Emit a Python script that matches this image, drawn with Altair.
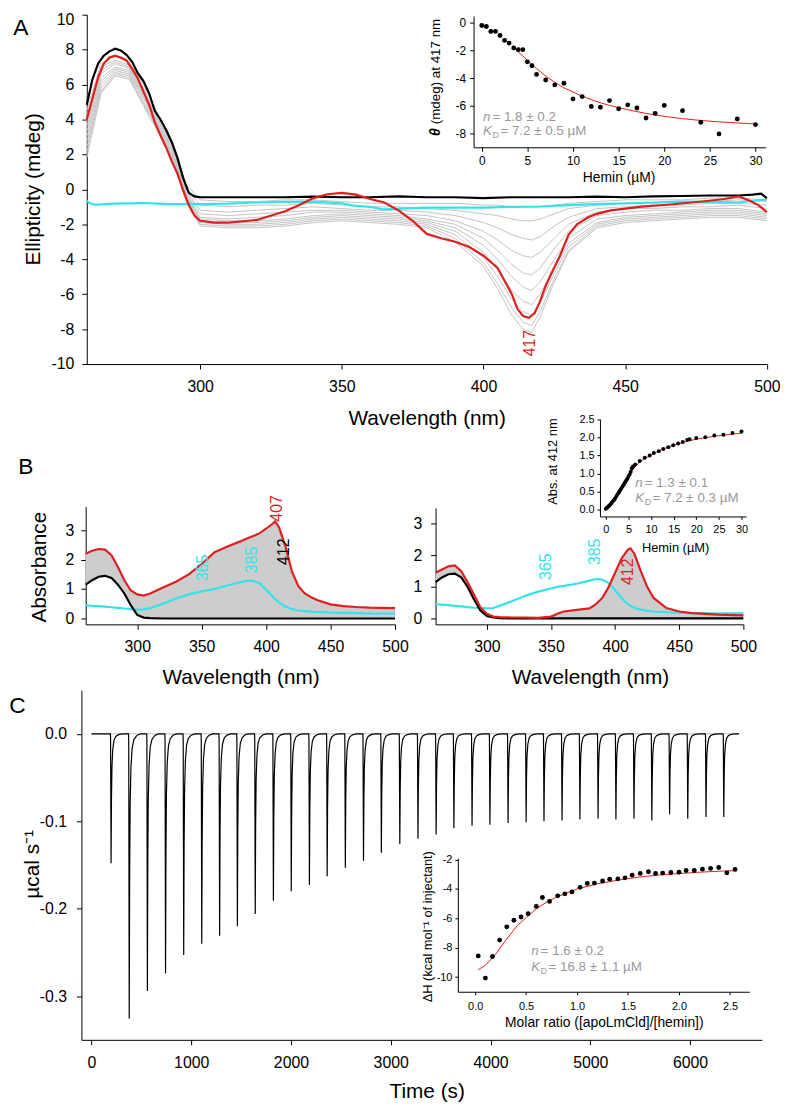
import altair as alt
import pandas as pd

W, H = 780, 1108
FONT = "Liberation Sans"
NARROW = "Liberation Sans Narrow, Liberation Sans"
RED = "#dd1f1f"
CYAN = "#33e3ea"
GRAY = "#c3c3c3"
FILL = "#cdcdcd"
NOTE = "#9a9a9a"

# ---------------- Panel A : CD spectra ----------------
wl_black_A = [260,262,264,266,268,270,272,274,276,278,280,282,284,286,288,290,292,294,296,298,300,
              310,320,330,340,350,360,370,380,390,400,410,420,430,440,450,460,470,480,490,495,498,500]
black_A = [4.85,6.3,7.2,7.65,7.9,8.05,7.95,7.7,7.3,6.65,6.2,5.5,4.5,4.0,3.4,2.7,1.8,0.66,-0.2,-0.4,-0.45,
           -0.45,-0.45,-0.45,-0.42,-0.45,-0.45,-0.4,-0.45,-0.45,-0.5,-0.45,-0.45,-0.45,-0.42,-0.45,-0.4,-0.38,-0.35,-0.35,
           -0.3,-0.25,-0.5]

wl_red_A = [260,262,264,266,268,270,272,274,276,278,280,282,284,286,288,290,292,294,296,298,300,
            305,310,320,330,335,340,345,350,355,360,365,370,375,380,385,390,395,400,405,
            408,410,412,414,416,418,420,422,424,427,430,433,437,440,445,455,467,478,485,490,494,497,500]
red_A = [4.0,5.2,6.4,7.2,7.55,7.65,7.55,7.38,6.9,6.35,5.6,4.85,3.85,3.1,2.4,1.6,0.9,-0.05,-0.9,-1.5,-1.8,
         -1.9,-1.9,-1.75,-1.25,-0.9,-0.5,-0.28,-0.2,-0.3,-0.55,-0.75,-1.2,-1.8,-2.55,-2.8,-3.0,-3.3,-3.8,-4.5,
         -5.4,-6.0,-6.85,-7.25,-7.35,-7.1,-6.4,-5.5,-4.8,-3.8,-2.6,-2.0,-1.6,-1.4,-1.2,-1.0,-0.85,-0.68,-0.55,-0.4,-0.65,-0.9,-1.3]

wl_cyan_A = [260,261,263,266,270,275,280,285,290,295,300,310,320,330,340,350,355,360,365,370,
             380,390,400,410,420,430,440,450,460,470,480,490,495,500]
cyan_A = [-0.65,-0.8,-0.88,-0.85,-0.82,-0.8,-0.78,-0.82,-0.85,-0.85,-0.85,-0.82,-0.75,-0.72,-0.7,-0.8,-0.95,-1.0,-1.15,-1.1,
          -1.05,-1.05,-1.05,-1.0,-0.98,-0.9,-0.85,-0.8,-0.75,-0.7,-0.72,-0.75,-0.65,-0.58]

wl_gray_A = [260,265,270,275,280,285,290,295,300,310,320,330,340,350,360,370,380,390,400,405,410,414,417,420,425,430,440,450,460,470,480,490,500]
gray_A = [
    [4.5,7.2,7.6,7.3,6.0,4.3,2.8,0.3,-0.6,-0.7,-0.7,-0.6,-0.6,-0.7,-0.8,-0.8,-0.8,-0.8,-0.9,-0.9,-1.0,-1.0,-1.0,-1.0,-0.9,-0.8,-0.7,-0.6,-0.6,-0.6,-0.5,-0.5,-0.6],
    [4.2,7.0,7.4,7.1,5.8,4.1,2.6,0.1,-0.9,-1.0,-0.9,-0.9,-0.8,-0.9,-1.0,-1.0,-1.1,-1.2,-1.4,-1.5,-1.7,-1.8,-1.8,-1.7,-1.4,-1.1,-0.9,-0.8,-0.8,-0.7,-0.7,-0.6,-0.7],
    [3.9,6.8,7.3,7.0,5.6,4.0,2.5,0.0,-1.2,-1.3,-1.2,-1.1,-1.0,-1.1,-1.2,-1.2,-1.3,-1.5,-1.9,-2.2,-2.6,-2.8,-2.9,-2.7,-2.1,-1.6,-1.1,-1.0,-0.9,-0.9,-0.8,-0.8,-0.9],
    [3.6,6.6,7.2,6.9,5.5,3.9,2.4,-0.1,-1.4,-1.5,-1.4,-1.3,-1.2,-1.2,-1.3,-1.4,-1.5,-1.8,-2.4,-2.9,-3.5,-3.8,-3.9,-3.6,-2.8,-2.0,-1.3,-1.1,-1.1,-1.0,-1.0,-0.9,-1.1],
    [3.3,6.4,7.0,6.8,5.4,3.8,2.3,-0.2,-1.6,-1.7,-1.6,-1.5,-1.3,-1.3,-1.4,-1.5,-1.7,-2.0,-2.8,-3.5,-4.3,-4.8,-4.9,-4.5,-3.4,-2.4,-1.5,-1.3,-1.2,-1.2,-1.1,-1.1,-1.3],
    [3.0,6.2,6.9,6.7,5.3,3.7,2.2,-0.3,-1.7,-1.8,-1.8,-1.7,-1.5,-1.4,-1.5,-1.6,-1.8,-2.2,-3.2,-4.0,-5.0,-5.6,-5.8,-5.3,-4.0,-2.8,-1.7,-1.5,-1.4,-1.3,-1.2,-1.2,-1.4],
    [2.7,6.0,6.8,6.6,5.2,3.6,2.1,-0.4,-1.8,-1.9,-1.9,-1.8,-1.6,-1.5,-1.6,-1.7,-1.9,-2.4,-3.6,-4.6,-5.8,-6.4,-6.6,-6.0,-4.5,-3.1,-1.9,-1.6,-1.5,-1.4,-1.3,-1.3,-1.5],
    [2.4,5.8,6.7,6.5,5.0,3.5,2.0,-0.5,-1.9,-2.0,-2.0,-1.9,-1.7,-1.6,-1.7,-1.8,-2.0,-2.6,-3.9,-5.0,-6.3,-7.0,-7.2,-6.5,-4.8,-3.3,-2.0,-1.7,-1.6,-1.5,-1.4,-1.4,-1.6],
    [2.1,5.6,6.6,6.4,4.9,3.4,1.9,-0.6,-2.0,-2.1,-2.1,-2.0,-1.8,-1.7,-1.8,-1.9,-2.1,-2.8,-4.2,-5.4,-6.8,-7.6,-7.8,-7.0,-5.1,-3.5,-2.1,-1.8,-1.7,-1.6,-1.5,-1.5,-1.7],
    [1.8,5.5,6.5,6.3,4.8,3.3,1.8,-0.7,-2.1,-2.2,-2.2,-2.1,-1.9,-1.8,-1.9,-2.0,-2.2,-3.0,-4.4,-5.7,-7.2,-8.0,-8.2,-7.3,-5.3,-3.6,-2.2,-1.9,-1.8,-1.7,-1.6,-1.6,-1.8],
]
label_A = {"x": [416.4], "y": [-8.8], "t": ["417"]}

# A inset
hemin_A = [0,0.5,1,1.5,2,2.5,3,3.5,4,4.5,5,5.5,6,7,8,9,10,11,12,13,14,15,16,17,18,19,20,22,24,26,28,30]
theta_A = [-0.19,-0.26,-0.62,-0.62,-0.91,-1.27,-1.46,-1.82,-1.94,-1.94,-2.82,-3.1,-3.73,-4.13,-4.49,-4.37,
           -5.5,-5.33,-6.05,-6.1,-5.62,-6.21,-5.93,-6.16,-6.88,-6.55,-5.97,-6.35,-7.19,-8.03,-6.95,-7.36]
fit_x_A = [3.6,4,5,6,7,8,9,10,11,12,13,14,15,16,18,20,22,24,26,28,30]
fit_y_A = [-1.85,-2.1,-2.7,-3.3,-3.85,-4.3,-4.7,-5.0,-5.3,-5.55,-5.78,-5.97,-6.13,-6.28,-6.55,-6.76,-6.93,-7.06,-7.16,-7.24,-7.31]
note_A = (0.14, -6.78, -7.86, "= 1.8 ± 0.2", "= 7.2 ± 0.5 µM")
ytitle_A = (-5.06, -8.19, "θ", "(mdeg) at 417 nm")

# ---------------- Panel B : absorbance ----------------
wl_BL = [260,265,270,275,280,285,290,295,300,305,310,320,330,340,350,360,370,380,385,390,395,400,405,407,410,415,420,425,430,435,440,450,460,470,480,490,500]
red_BL = [2.2,2.3,2.36,2.34,2.15,1.75,1.3,0.95,0.82,0.78,0.85,1.05,1.25,1.5,1.85,2.25,2.45,2.62,2.72,2.8,2.9,3.05,3.22,3.3,3.1,2.45,1.6,1.1,0.85,0.72,0.62,0.48,0.42,0.39,0.37,0.36,0.35]
black_BL = [1.15,1.3,1.42,1.45,1.38,1.15,0.85,0.45,0.12,0.03,0.01,0,0,0,0,0,0,0,0,0,0,0,0,0,0,0,0,0,0,0,0,0,0,0,0,0,0]
cyan_BL = [0.45,0.43,0.42,0.4,0.38,0.36,0.34,0.32,0.3,0.31,0.35,0.5,0.68,0.82,0.92,1.0,1.12,1.23,1.28,1.28,1.2,0.98,0.75,0.66,0.55,0.4,0.32,0.27,0.25,0.23,0.22,0.2,0.19,0.18,0.17,0.17,0.17]
labels_BL = {"x": [351, 389.4, 413.8, 408.6], "y": [1.72, 1.99, 2.27, 3.74], "t": ["365", "385", "412", "407"], "c": ["cy", "cy", "bk", "rd"]}

wl_BR = [260,265,270,275,280,285,290,295,300,305,310,320,330,340,350,355,360,370,380,385,390,395,400,405,410,412,415,420,425,430,440,450,460,480,500]
red_BR = [1.45,1.55,1.65,1.68,1.5,1.15,0.75,0.35,0.15,0.06,0.04,0.03,0.03,0.02,0.06,0.15,0.22,0.27,0.32,0.45,0.65,1.0,1.45,1.9,2.18,2.22,2.05,1.5,1.0,0.65,0.33,0.22,0.17,0.12,0.1]
black_BR = [1.15,1.3,1.4,1.42,1.3,1.0,0.6,0.25,0.08,0.03,0.01,0,0,0,0,0,0,0,0,0,0,0,0,0,0,0,0,0,0,0,0,0,0,0,0]
cyan_BR = [0.45,0.44,0.42,0.4,0.38,0.36,0.34,0.33,0.32,0.33,0.4,0.55,0.72,0.85,0.95,1.0,1.03,1.1,1.2,1.25,1.23,1.12,0.9,0.65,0.45,0.4,0.33,0.28,0.24,0.22,0.2,0.18,0.17,0.16,0.16]
labels_BR = {"x": [346, 384.6, 410.3], "y": [1.64, 2.11, 1.48], "t": ["365", "385", "412"], "c": ["cy", "cy", "rd"]}

# B inset
hemin_B = [0,0.25,0.5,0.75,1,1.25,1.5,1.75,2,2.25,2.5,2.75,3,3.25,3.5,3.75,4,4.25,4.5,4.75,5,5.25,5.5,5.75,6,
           6.5,7.5,8.6,9.7,10.6,11.7,12.7,13.8,14.9,16,17,18,18.5,20,22,24,26,28,30]
abs_B = [0.03,0.06,0.09,0.12,0.15,0.19,0.23,0.27,0.31,0.36,0.41,0.46,0.51,0.56,0.61,0.66,0.71,0.76,0.81,0.86,0.92,0.98,1.05,1.15,1.2,
         1.25,1.35,1.44,1.5,1.57,1.62,1.68,1.73,1.78,1.83,1.87,1.93,1.95,1.98,2.0,2.05,2.07,2.12,2.16]
fit_x_B = [5,6,7,8,10,12,14,16,18,20,22,24,26,28,30]
fit_y_B = [0.95,1.12,1.26,1.37,1.52,1.64,1.74,1.82,1.89,1.95,1.99,2.03,2.06,2.09,2.11]
note_B = (6.5, 0.745, 0.317, "= 1.3 ± 0.1", "= 7.2 ± 0.3 µM")

# ---------------- Panel C : ITC ----------------
inj_time = [192,374,556,738,920,1101,1280,1458,1637,1819,1998,2180,2358,2540,2722,2901,3086,3268,3450,3628,
            3810,3989,4171,4352,4531,4712,4891,5073,5252,5433,5612,5790,5972,6155,6333]
inj_peak = [-0.148,-0.326,-0.294,-0.274,-0.253,-0.240,-0.231,-0.220,-0.206,-0.191,-0.180,-0.173,-0.163,-0.153,-0.145,
            -0.136,-0.126,-0.120,-0.115,-0.108,-0.105,-0.104,-0.102,-0.101,-0.100,-0.099,-0.098,-0.097,-0.098,-0.097,
            -0.099,-0.092,-0.097,-0.095,-0.095]
peak_shape_dt = [-2, 0, 5, 9, 14, 22, 34, 52, 80, 115]
peak_shape_frac = [0, 0.03, 1.0, 0.5, 0.25, 0.12, 0.05, 0.02, 0.006, 0]
trace_span = [0, 6490]

ratio_C = [0.03,0.10,0.17,0.24,0.31,0.38,0.45,0.52,0.60,0.66,0.73,0.81,0.88,0.95,1.03,1.10,1.17,1.25,1.32,1.40,
           1.47,1.54,1.62,1.70,1.77,1.84,1.92,2.00,2.07,2.15,2.23,2.31,2.39,2.47,2.55]
dH_C = [-8.56,-10.07,-8.6,-7.48,-6.58,-6.13,-5.91,-5.68,-5.19,-4.58,-4.85,-4.47,-4.33,-4.2,-3.89,-3.62,-3.6,-3.46,-3.33,-3.31,
        -3.24,-3.06,-2.94,-2.83,-2.94,-2.92,-2.88,-2.86,-2.74,-2.74,-2.65,-2.6,-2.54,-2.9,-2.67]
fit_x_C = [0.03,0.1,0.2,0.3,0.4,0.5,0.6,0.7,0.8,1.0,1.2,1.4,1.6,1.8,2.0,2.2,2.4,2.55]
fit_y_C = [-9.5,-9.2,-8.45,-7.5,-6.6,-5.95,-5.35,-4.9,-4.55,-4.0,-3.65,-3.4,-3.2,-3.05,-2.95,-2.86,-2.79,-2.75]
note_C = (0.55, -8.22, -9.30, "= 1.6 ± 0.2", "= 16.8 ± 1.1 µM")


# ---------------- helpers ----------------
def fmt(dec):
    f = "'.%df'" % dec if dec else "'d'"
    return "(datum.value < 0 ? '-' : '') + format(abs(datum.value), %s)" % f


def sc(dom, rng):
    return alt.Scale(domain=dom, range=rng, nice=False, zero=False)


def axis(orient, offset, values, title, tx, ty, dec=0, lsize=16, lpad=8, tsize=5,
         title_size=21, lfont=FONT, loff=0):
    return alt.Axis(orient=orient, offset=offset, values=values, title=title,
                    titleX=tx, titleY=ty, titleBaseline="middle", titleAlign="center",
                    titleFont=FONT, titleFontSize=title_size, titleFontWeight="normal",
                    titleColor="black", labelFont=lfont, labelFontSize=lsize,
                    labelColor="black", labelPadding=lpad, tickSize=tsize,
                    tickColor="black", domainColor="black", domainWidth=1, tickWidth=1,
                    grid=False, labelExpr=fmt(dec), labelOverlap=False, labelFlush=False,
                    labelOffset=loff)


def line(df, xe, ye, color, width, detail=None):
    enc = dict(x=xe, y=ye)
    if detail:
        enc["detail"] = detail
    return alt.Chart(df).mark_line(color=color, strokeWidth=width).encode(**enc)


def notes(xe, ye, spec, size=13.5):
    x, y1, y2, t1, t2 = spec
    parts = [("n", y1, 0, 0, size, "italic"), (t1, y1, 9.5, 0, size, "normal"),
             ("K", y2, 0, 0, size, "italic"), ("D", y2, 9.5, 4, 9, "normal"),
             (t2, y2, 17.5, 0, size, "normal")]
    out = []
    for txt, yy, dx, dy, fs, st in parts:
        df = pd.DataFrame({"x": [x], "y": [yy], "t": [txt]})
        out.append(alt.Chart(df).mark_text(align="left", baseline="middle", dx=dx, dy=dy,
                                           fontSize=fs, fontStyle=st, font=FONT, color=NOTE)
                   .encode(x=xe, y=ye, text="t:N"))
    return out


def vtext(d, xe, ye, size, colors):
    df = pd.DataFrame(d)
    return alt.Chart(df).mark_text(angle=270, fontSize=size, font=FONT, baseline="middle",
                                   align="center").encode(
        x=xe, y=ye, text="t:N",
        color=alt.Color("c:N", scale=alt.Scale(domain=list(colors.keys()), range=list(colors.values())),
                        legend=None))


# ---------------- Panel A main ----------------
top_label_shift = {"condition": {"test": "datum.value == 10", "value": 5}, "value": 0}
xA = alt.X("x:Q", scale=sc([260, 500], [79.6, 766.7]),
           axis=axis("bottom", 354 - H, [300, 350, 400, 450, 500], "Wavelength (nm)", 423, 54.7, lpad=10))
yA = alt.Y("y:Q", scale=sc([-10, 10], [354, 1]),
           axis=axis("left", -79.6, list(range(-10, 11, 2)), "Ellipticity (mdeg)", -53.6, 177, lpad=8,
                     loff=top_label_shift))

gray_rows = []
for i, g in enumerate(gray_A):
    for w, v in zip(wl_gray_A, g):
        gray_rows.append({"x": w, "y": v, "s": "g%d" % i})
groupA = alt.layer(
    line(pd.DataFrame(gray_rows), xA, yA, GRAY, 1, "s:N"),
    line(pd.DataFrame({"x": wl_cyan_A, "y": cyan_A}), xA, yA, CYAN, 2.2),
    line(pd.DataFrame({"x": wl_black_A, "y": black_A}), xA, yA, "black", 2.2),
    line(pd.DataFrame({"x": wl_red_A, "y": red_A}), xA, yA, RED, 2.2),
    alt.Chart(pd.DataFrame(label_A)).mark_text(angle=270, fontSize=16, font=FONT, color=RED,
                                               baseline="middle", align="center")
    .encode(x=xA, y=yA, text="t:N"),
)

# A inset
xAi = alt.X("x:Q", scale=sc([-0.9, 31.1], [470.4, 765.4]),
            axis=axis("bottom", 135 - H, [0, 5, 10, 15, 20, 25, 30], "Hemin (µM)", 617, 31,
                      lsize=12, lpad=4, tsize=4, title_size=14))
yAi = alt.Y("y:Q", scale=sc([-9, 0.5], [135, 2.3]),
            axis=axis("left", -470.4, [-8, -6, -4, -2, 0], "", -38.4, 64,
                      lsize=12, lpad=4, tsize=4, title_size=13.5))
tx, ty, t_sym, t_rest = ytitle_A
groupAi = alt.layer(
    line(pd.DataFrame({"x": fit_x_A, "y": fit_y_A}), xAi, yAi, RED, 1),
    alt.Chart(pd.DataFrame({"x": hemin_A, "y": theta_A})).mark_circle(size=24, color="black", opacity=1)
    .encode(x=xAi, y=yAi),
    alt.Chart(pd.DataFrame({"x": [tx], "y": [ty], "t": [t_sym]})).mark_text(
        angle=270, align="left", baseline="middle", fontSize=14, fontStyle="italic", fontWeight="bold",
        font=FONT, color="black").encode(x=xAi, y=yAi, text="t:N"),
    alt.Chart(pd.DataFrame({"x": [tx], "y": [ty], "t": [t_rest]})).mark_text(
        angle=270, align="left", baseline="middle", fontSize=13.5, dx=12,
        font=FONT, color="black").encode(x=xAi, y=yAi, text="t:N"),
    *notes(xAi, yAi, note_A),
)

# ---------------- Panel B left ----------------
xBL = alt.X("x:Q", scale=sc([260, 500], [78.5, 391]),
            axis=axis("bottom", 617 - H, [300, 350, 400, 450, 500], "Wavelength (nm)", 235, 53.3,
                      lpad=9, lfont=NARROW))
yBL = alt.Y("y:Q", scale=sc([-0.2, 3.8], [617, 498.1]),
            axis=axis("left", -78.5, [0, 1, 2, 3], "Absorbance", -46.5, 558.7, lpad=7, lfont=NARROW))
cmap = {"cy": CYAN, "bk": "black", "rd": RED}
groupBL = alt.layer(
    alt.Chart(pd.DataFrame({"x": wl_BL, "y": black_BL, "y2": red_BL})).mark_area(color=FILL, opacity=1)
    .encode(x=xBL, y=yBL, y2="y2:Q"),
    line(pd.DataFrame({"x": wl_BL, "y": cyan_BL}), xBL, yBL, CYAN, 2.2),
    line(pd.DataFrame({"x": wl_BL, "y": black_BL}), xBL, yBL, "black", 2.2),
    line(pd.DataFrame({"x": wl_BL, "y": red_BL}), xBL, yBL, RED, 2.2),
    vtext(labels_BL, xBL, yBL, 16, cmap),
)

# ---------------- Panel B right ----------------
xBR = alt.X("x:Q", scale=sc([260, 500], [432, 743]),
            axis=axis("bottom", 617 - H, [300, 350, 400, 450, 500], "Wavelength (nm)", 588, 53.3, lpad=9))
yBR = alt.Y("y:Q", scale=sc([-0.19, 3.5], [617.1, 499.4]),
            axis=axis("left", -432, [0, 1, 2, 3], "", -40, 560, lpad=9))
groupBR = alt.layer(
    alt.Chart(pd.DataFrame({"x": wl_BR, "y": black_BR, "y2": red_BR})).mark_area(color=FILL, opacity=1)
    .encode(x=xBR, y=yBR, y2="y2:Q"),
    line(pd.DataFrame({"x": wl_BR, "y": cyan_BR}), xBR, yBR, CYAN, 2.2),
    line(pd.DataFrame({"x": wl_BR, "y": black_BR}), xBR, yBR, "black", 2.2),
    line(pd.DataFrame({"x": wl_BR, "y": red_BR}), xBR, yBR, RED, 2.2),
    vtext(labels_BR, xBR, yBR, 16, cmap),
)

# B inset
xBi = alt.X("x:Q", scale=sc([-1.3, 31], [598.1, 745.7]),
            axis=axis("bottom", 508 - H, [0, 5, 10, 15, 20, 25, 30], "Hemin (µM)", 674, 31,
                      lsize=11, lpad=4, tsize=3, title_size=13))
yBi = alt.Y("y:Q", scale=sc([-0.18, 2.5], [508, 409.7]),
            axis=axis("left", -598.1, [0, 0.5, 1, 1.5, 2, 2.5], "Abs. at 412 nm", -48, 452,
                      dec=1, lsize=11, lpad=3, tsize=3, title_size=13))
groupBi = alt.layer(
    line(pd.DataFrame({"x": fit_x_B, "y": fit_y_B}), xBi, yBi, RED, 1),
    alt.Chart(pd.DataFrame({"x": hemin_B, "y": abs_B})).mark_circle(size=16, color="black", opacity=1)
    .encode(x=xBi, y=yBi),
    *notes(xBi, yBi, note_B),
)

# ---------------- Panel C main ----------------
trace = [{"x": trace_span[0], "y": 0.0}]
for t, d in zip(inj_time, inj_peak):
    for dt, f in zip(peak_shape_dt, peak_shape_frac):
        trace.append({"x": t + dt, "y": d * f})
trace.append({"x": trace_span[1], "y": 0.0})

xC = alt.X("x:Q", scale=sc([-100, 6720], [74.2, 761.7]),
           axis=axis("bottom", 1036.8 - H, [0, 1000, 2000, 3000, 4000, 5000, 6000], "Time (s)", 423, 52.2, lpad=10))
yC = alt.Y("y:Q", scale=sc([-0.35, 0.05], [1036.8, 683.5]),
           axis=axis("left", -74.2, [-0.3, -0.2, -0.1, 0.0], "µcal s⁻¹", -49.2, 859, dec=1, lpad=10))
groupC = alt.layer(
    line(pd.DataFrame({"x": trace_span, "y": [0, 0]}), xC, yC, "#b0b0b0", 0.8),
    line(pd.DataFrame(trace), xC, yC, "black", 1.2),
)

# C inset
xCi = alt.X("x:Q", scale=sc([-0.17, 2.69], [454.5, 749]),
            axis=axis("bottom", 988.2 - H, [0, 0.5, 1, 1.5, 2, 2.5], "Molar ratio ([apoLmCld]/[hemin])", 602, 31.1,
                      dec=1, lsize=11, lpad=6, tsize=3, title_size=14))
yCi = alt.Y("y:Q", scale=sc([-11, -1.9], [988.2, 853.2]),
            axis=axis("left", -454.5, [-10, -8, -6, -4, -2], "ΔH (kcal mol⁻¹ of injectant)", -30.8, 922,
                      lsize=11, lpad=3, tsize=3, title_size=13))
groupCi = alt.layer(
    line(pd.DataFrame({"x": fit_x_C, "y": fit_y_C}), xCi, yCi, RED, 1),
    alt.Chart(pd.DataFrame({"x": ratio_C, "y": dH_C})).mark_circle(size=24, color="black", opacity=1)
    .encode(x=xCi, y=yCi),
    *notes(xCi, yCi, note_C),
)

# panel letters
letters = [
    alt.Chart(pd.DataFrame({"t": [s]})).mark_text(fontSize=23, font=FONT, align="center", baseline="middle",
                                                 color="black")
    .encode(x=alt.value(px), y=alt.value(py), text="t:N")
    for s, px, py in [("A", 13, 14.5), ("B", 18, 458), ("C", 9.5, 700)]
]

chart = alt.layer(groupA, groupAi, groupBL, groupBR, groupBi, groupC, groupCi, *letters).resolve_scale(
    x="independent", y="independent", color="independent"
).properties(
    width=W, height=H, padding=0, autosize=alt.AutoSizeParams(type="none")
).configure(font=FONT).configure_view(stroke="transparent", strokeWidth=0)

chart.save("out.html", embed_options={"renderer": "svg", "actions": False})
